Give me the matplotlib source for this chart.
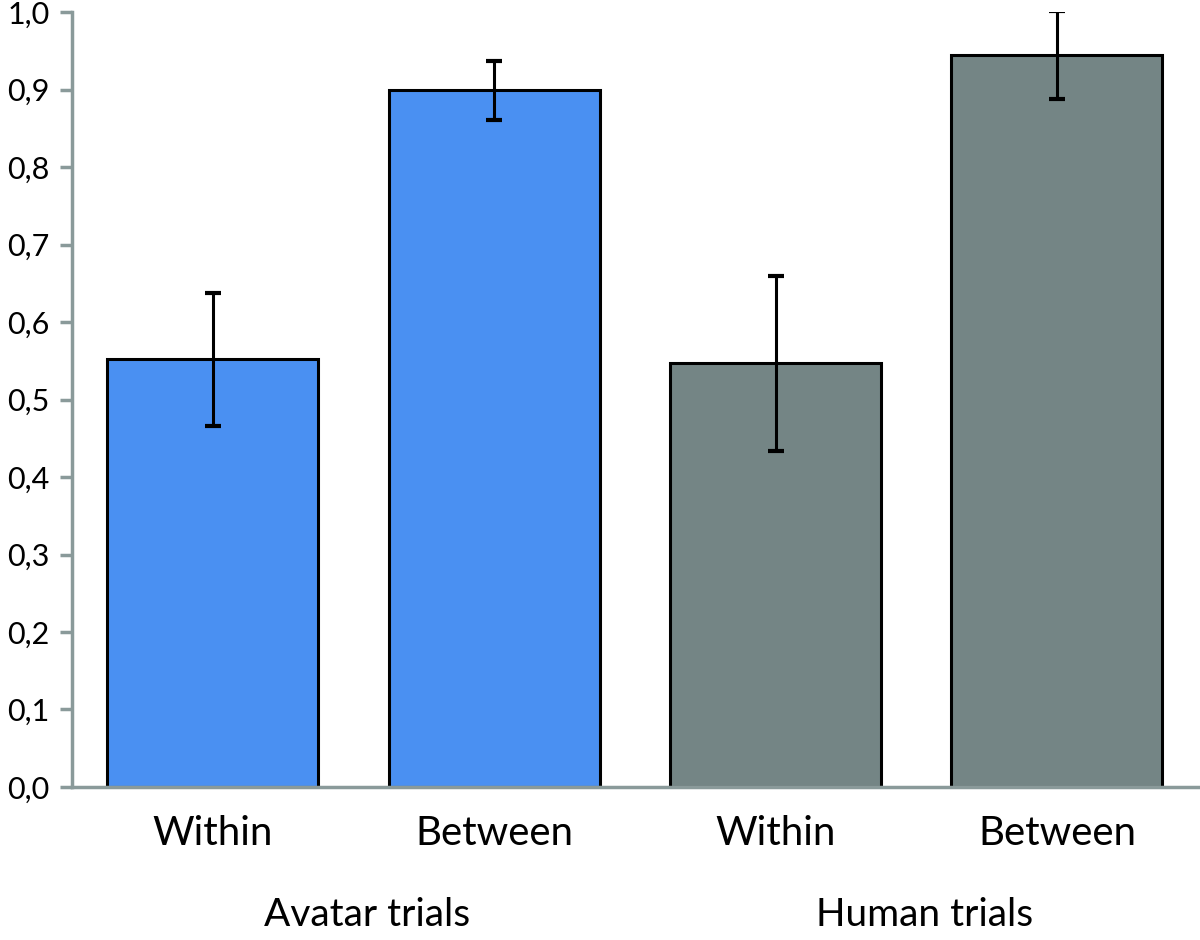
import matplotlib.pyplot as plt
from matplotlib import transforms

conditions = ["Within", "Between", "Within", "Between"]
groups = ["Avatar trials", "Human trials"]
values = [0.552, 0.899, 0.547, 0.945]
errors = [0.086, 0.038, 0.113, 0.057]
colors = ["#4A90F2", "#4A90F2", "#748585", "#748585"]
yticks = [0.0, 0.1, 0.2, 0.3, 0.4, 0.5, 0.6, 0.7, 0.8, 0.9, 1.0]

plt.rcParams['font.family'] = ['Lato', 'DejaVu Sans']

fig = plt.figure(figsize=(12, 9.4), dpi=100)
ax = fig.add_axes([0.06, 0.1628, 0.938, 0.8242])

x = list(range(len(values)))
ax.bar(x, values, width=0.75, color=colors, edgecolor="black", linewidth=2.2,
       yerr=errors, error_kw=dict(ecolor="black", elinewidth=2.2, capsize=6, capthick=3),
       zorder=2)

ax.set_xlim(-0.5, 3.5)
ax.set_ylim(0, 1.0)
ax.set_yticks(yticks)
ax.set_yticklabels([f"{t:.1f}".replace(".", ",") for t in yticks], fontsize=22)
ax.set_xticks(x)
ax.set_xticklabels(conditions, fontsize=29)
ax.tick_params(axis="x", length=0, pad=20)
ax.tick_params(axis="y", length=9, width=2.5, color="#8A9A9A", pad=7)

for side in ["top", "right"]:
    ax.spines[side].set_visible(False)
for side in ["left", "bottom"]:
    ax.spines[side].set_color("#8A9A9A")
    ax.spines[side].set_linewidth(2.5)

trans = transforms.blended_transform_factory(ax.transData, ax.transAxes)
ax.text(0.55, -0.165, groups[0], transform=trans, ha="center", va="center", fontsize=28)
ax.text(2.53, -0.165, groups[1], transform=trans, ha="center", va="center", fontsize=28)

fig.savefig("out.png", dpi=100)
